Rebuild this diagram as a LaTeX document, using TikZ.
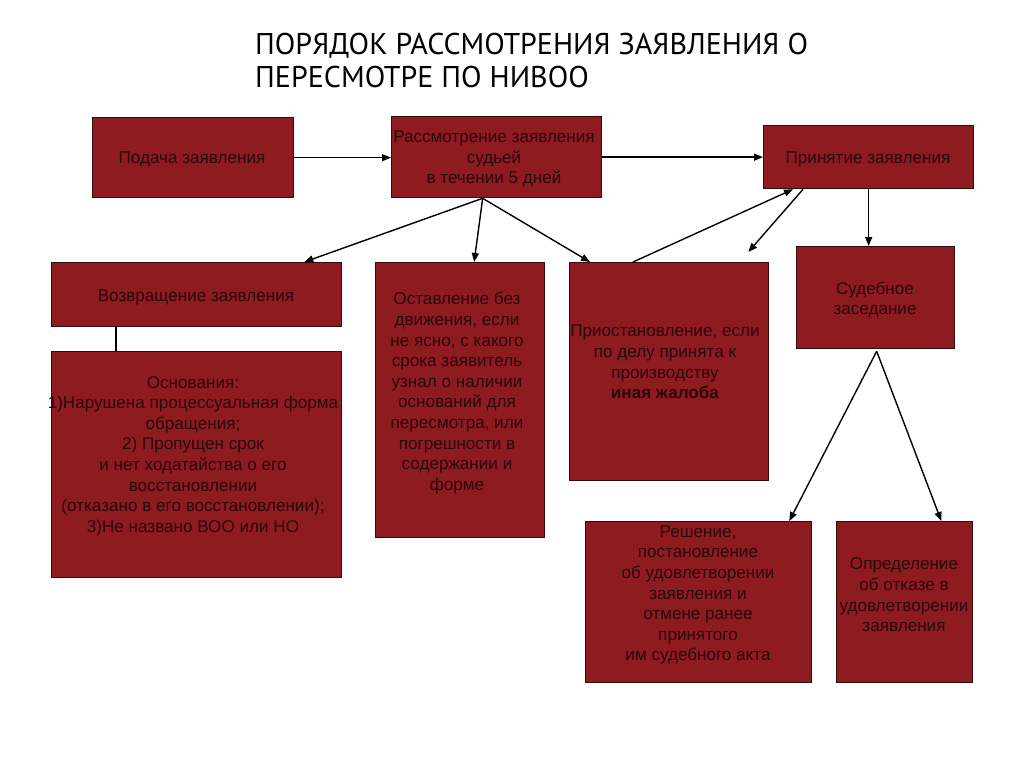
\documentclass[tikz,border=0pt]{standalone}
\usepackage{fontspec}
\setmainfont{Liberation Sans}
\newfontfamily\titlefont{PT Sans}
\usetikzlibrary{arrows.meta,calc}
\definecolor{boxred}{RGB}{142,27,32}
\definecolor{boxline}{RGB}{50,12,12}
\definecolor{boxtext}{RGB}{42,8,8}
\tikzset{
  x=1pt,y=-1pt,
  redbox/.style={draw=boxline,line width=1.3pt,fill=boxred,inner sep=0pt,anchor=north west},
  boxlabel/.style={text=boxtext,align=center,inner sep=0pt,font=\fontsize{17.1}{20.6}\selectfont},
  titletext/.style={anchor=base west,inner sep=0pt,font=\titlefont\fontsize{30}{33}\selectfont},
  arr/.style={-{Triangle[length=9pt,width=7pt]},line width=1.4pt,black},
  plainline/.style={line width=1.2pt,black}
}
\begin{document}
\begin{tikzpicture}
\useasboundingbox[fill=white] (0,0) rectangle (1024,767);
\node[titletext] (t1) at (255,55) {ПОРЯДОК РАССМОТРЕНИЯ ЗАЯВЛЕНИЯ О};
\node[titletext] (t2) at (255,88) {ПЕРЕСМОТРЕ ПО НИВОО};

\node[redbox,minimum width=201pt,minimum height=80pt] (A) at (92,117) {};
\node[redbox,minimum width=210pt,minimum height=81pt] (B) at (391,116) {};
\node[redbox,minimum width=210pt,minimum height=63pt] (C) at (763,125) {};
\node[redbox,minimum width=290pt,minimum height=64pt] (D) at (51,262) {};
\node[redbox,minimum width=290pt,minimum height=226pt] (E) at (51,351) {};
\node[redbox,minimum width=169pt,minimum height=275pt] (F) at (375,262) {};
\node[redbox,minimum width=199pt,minimum height=218pt] (G) at (569,262) {};
\node[redbox,minimum width=158pt,minimum height=102pt] (H) at (796,246) {};
\node[redbox,minimum width=226pt,minimum height=161pt] (I) at (585,521) {};
\node[redbox,minimum width=136pt,minimum height=161pt] (J) at (836,521) {};

\node[boxlabel] (lA) at (192,159) {Подача заявления};
\node[boxlabel] (lB) at (494,159) {Рассмотрение заявления\\судьей\\в течении 5 дней};
\node[boxlabel] (lC) at (868,159) {Принятие заявления};
\node[boxlabel] (lD) at (196,297) {Возвращение заявления};
\node[boxlabel] (lE) at (193,456) {Основания:\\1)Нарушена процессуальная форма\\обращения;\\2) Пропущен срок\\и нет ходатайства о его\\восстановлении\\(отказано в его восстановлении);\\3)Не названо ВОО или НО};
\node[boxlabel] (lF) at (457,393) {Оставление без\\движения, если\\не ясно, с какого\\срока заявитель\\узнал о наличии\\оснований для\\пересмотра, или\\погрешности в\\содержании и\\форме};
\node[boxlabel] (lG) at (665,362) {Приостановление, если\\по делу принята к\\производству\\\textbf{иная жалоба}};
\node[boxlabel] (lH) at (875,300) {Судебное\\заседание};
\node[boxlabel] (lI) at (698,595) {Решение,\\постановление\\об удовлетворении\\заявления и\\отмене ранее\\принятого\\им судебного акта};
\node[boxlabel] (lJ) at (904,595) {Определение\\об отказе в\\удовлетворении\\заявления};

\draw[arr] (A.east) -- (B.west |- A.east);
\draw[arr] (B.east) -- (C.west |- B.east);
\coordinate (bs) at ($(B.south)+(-14,0)$);
\draw[arr] (bs) -- ($(D.north east)+(-38,0)$);
\draw[arr] (bs) -- ($(F.north)+(14,0)$);
\draw[arr] (bs) -- ($(G.north west)+(21,0)$);
\draw[arr] ($(G.north west)+(64,0)$) -- ($(C.south west)+(30,0)$);
\draw[arr] ($(C.south west)+(40,0)$) -- ($(G.north east)+(-21,-10)$);
\draw[arr] (C.south) -- (C.south |- H.north);
\draw[arr] ($(H.south)+(1,2)$) -- ($(I.north east)+(-23,0)$);
\draw[arr] ($(H.south)+(1,2)$) -- ($(J.north east)+(-32,0)$);
\draw[plainline] ($(D.south west)+(65,0)$) -- ($(E.north west)+(65,0)$);
\end{tikzpicture}
\end{document}
